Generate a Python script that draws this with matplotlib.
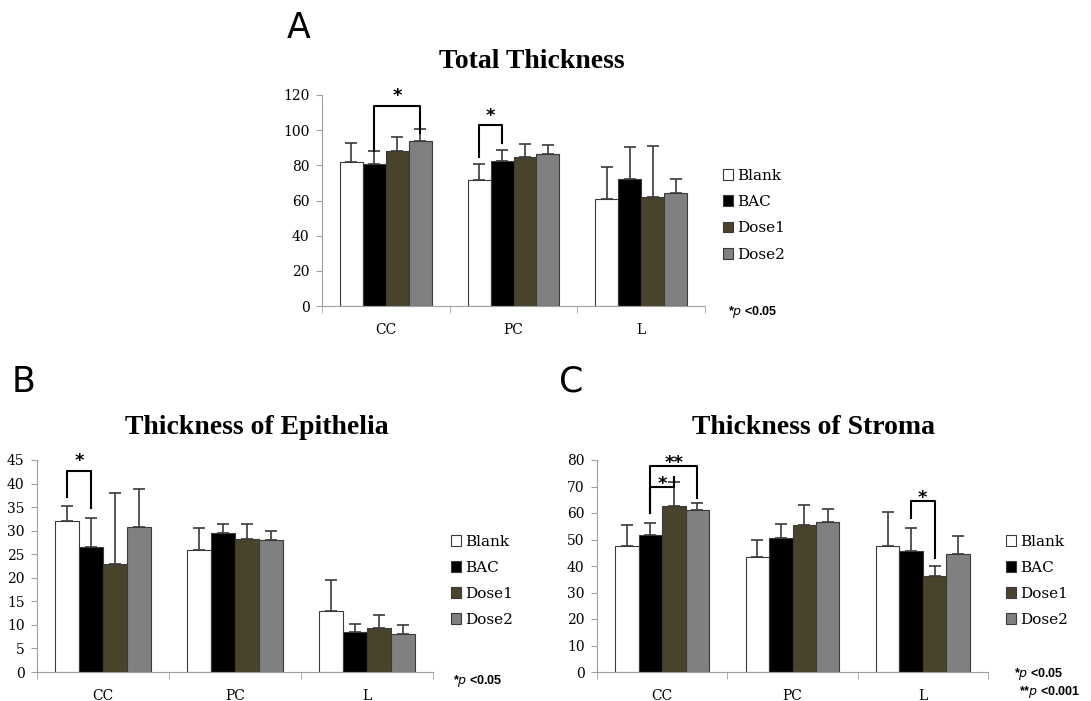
import matplotlib
matplotlib.use('Agg')
import matplotlib.pyplot as plt
import numpy as np

categories = ['CC', 'PC', 'L']
groups     = ['Blank', 'BAC', 'Dose1', 'Dose2']
colors     = ['white', 'black', '#4a432c', '#808080']

# Total thickness: means and upper SD, one row per group
total_mean = [[81.7, 71.7, 61.0], [80.9, 82.5, 72.0], [88.1, 84.9, 62.0], [93.8, 86.3, 64.5]]
total_err  = [[10.8, 8.9, 18.2], [7.4, 6.4, 18.2], [8.2, 7.2, 29.0], [6.9, 5.5, 7.7]]

# Epithelia
epi_mean = [[32.1, 25.9, 12.85], [26.6, 29.5, 8.5], [22.9, 28.2, 9.25], [30.8, 28.0, 8.1]]
epi_err  = [[3.1, 4.6, 6.75], [6.0, 1.9, 1.7], [15.2, 3.3, 2.85], [8.0, 2.0, 1.9]]

# Stroma
str_mean = [[47.4, 43.5, 47.4], [51.8, 50.4, 45.5], [62.8, 55.4, 36.2], [61.0, 56.7, 44.6]]
str_err  = [[7.9, 6.4, 12.9], [4.4, 5.6, 9.0], [8.8, 7.8, 3.7], [2.9, 4.8, 6.8]]

serif = ['DejaVu Serif']
title_font = ['Liberation Serif', 'DejaVu Serif']
W = 0.18

fig = plt.figure(figsize=(10.91, 7.01), dpi=100)


def bar_x(cat, g):
    return cat + (g - 1.5) * W


def panel(rect, mean, err, ymax, ystep, title, title_xy, letter, letter_xy, brackets, ptexts):
    ax = fig.add_axes(rect)
    x = np.arange(len(categories))
    for g in range(len(groups)):
        ax.bar(x + (g - 1.5) * W, mean[g], W, color=colors[g], edgecolor='#3a3a3a',
               linewidth=0.8, label=groups[g], zorder=2)
        ax.errorbar(x + (g - 1.5) * W, mean[g], yerr=[np.zeros(3), err[g]], fmt='none',
                    ecolor='#3a3a3a', elinewidth=1.2, capsize=4, capthick=1.2, zorder=3)
    ax.set_xlim(-0.5, 2.5)
    ax.set_ylim(0, ymax)
    ax.set_yticks(np.arange(0, ymax + 1, ystep))
    ax.set_xticks(x)
    ax.set_xticklabels(categories)
    ax.set_xticks([-0.5, 0.5, 1.5, 2.5], minor=True)
    ax.tick_params(axis='x', which='major', length=0, pad=12)
    ax.tick_params(axis='x', which='minor', length=5, color='#a0a0a0')
    ax.tick_params(axis='y', length=4, color='#a0a0a0', pad=5)
    for lab in ax.get_xticklabels() + ax.get_yticklabels():
        lab.set_family(serif)
        lab.set_fontsize(10)
    for s in ['top', 'right']:
        ax.spines[s].set_visible(False)
    for s in ['left', 'bottom']:
        ax.spines[s].set_color('#a0a0a0')
    # significance brackets: (category, bar i, bar j, top, left leg end, right leg end, label, label centre)
    for cat, i, j, ytop, yl, yr, lab, ylab in brackets:
        xi, xj = bar_x(cat, i), bar_x(cat, j)
        ax.plot([xi, xi, xj, xj], [yl, ytop, ytop, yr], color='black', lw=1.5,
                clip_on=False, zorder=4)
        ax.annotate(lab, ((xi + xj) / 2, ylab), xytext=(0, -7), textcoords='offset points',
                    ha='center', va='baseline', fontsize=13, fontweight='bold',
                    family='DejaVu Sans', annotation_clip=False)
    leg = ax.legend(loc='center left', bbox_to_anchor=(1.01, 0.43), frameon=False,
                    handlelength=0.7, handleheight=0.7, handletextpad=0.25, labelspacing=0.8,
                    prop={'family': serif, 'size': 11})
    for h in leg.legend_handles:
        h.set_edgecolor('#3a3a3a')
    fig.text(title_xy[0], title_xy[1], title, ha='center', va='center', fontsize=20,
             fontweight='bold', family=title_font)
    fig.text(letter_xy[0], letter_xy[1], letter, ha='center', va='center', fontsize=25,
             family=['Liberation Sans Narrow', 'DejaVu Sans'])
    for px, py, t in ptexts:
        fig.text(px, py, t, ha='left', va='center', fontsize=9, fontweight='bold',
                 family=['Liberation Sans', 'DejaVu Sans'])
    return ax


def fx(p):
    return p / 1091.0


def fy(p):
    return 1 - p / 701.0


panel([fx(322), fy(306), fx(383), (306 - 95) / 701.0], total_mean, total_err, 120, 20,
      'Total Thickness', (fx(532), fy(62)), 'A', (fx(299), fy(28)),
      [(0, 1, 3, 113.7, 88.3, 98.5, '*', 121.9), (1, 0, 1, 103.0, 85.0, 92.5, '*', 110.8)],
      [(fx(728), fy(312), r'*$\mathit{p}$ <0.05')])

panel([fx(37), fy(672), fx(396), (672 - 460) / 701.0], epi_mean, epi_err, 45, 5,
      'Thickness of Epithelia', (fx(257), fy(427)), 'B', (fx(24), fy(382)),
      [(0, 0, 1, 42.7, 37.2, 34.9, '*', 45.8)],
      [(fx(453), fy(681), r'*$\mathit{p}$ <0.05')])

panel([fx(597), fy(672), fx(391), (672 - 460) / 701.0], str_mean, str_err, 80, 10,
      'Thickness of Stroma', (fx(813), fy(427)), 'C', (fx(571), fy(382)),
      [(0, 1, 2, 69.8, 60.0, 73.7, '*', 72.8), (0, 1, 3, 77.7, 60.0, 65.8, '**', 80.8),
       (2, 1, 2, 64.5, 58.0, 43.0, '*', 67.6)],
      [(fx(1014), fy(674), r'*$\mathit{p}$ <0.05'), (fx(1019), fy(692), r'**$\mathit{p}$ <0.001')])

fig.savefig('out.png', dpi=100)
